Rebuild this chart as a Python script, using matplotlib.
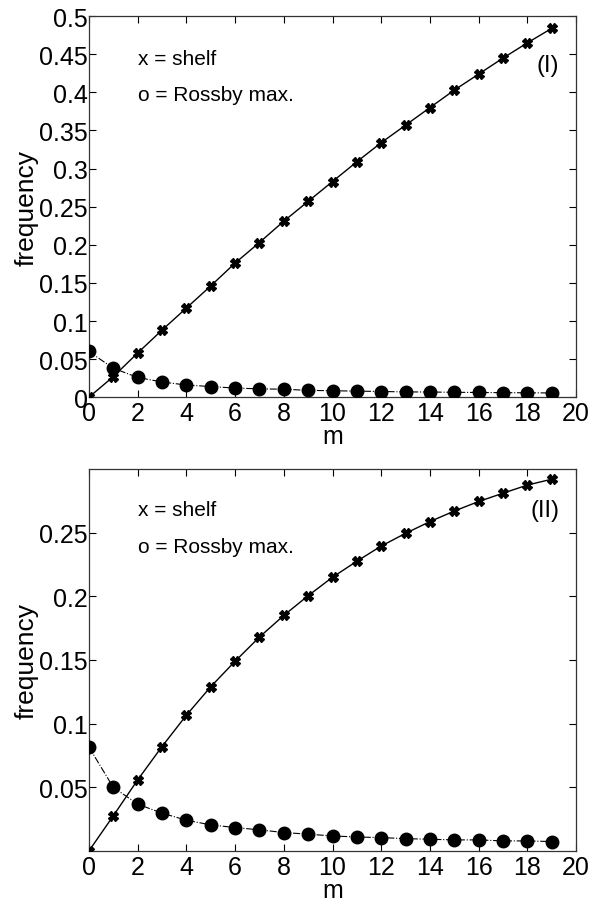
import matplotlib
matplotlib.use("Agg")
import matplotlib.pyplot as plt

plt.rcParams['font.family'] = ['Liberation Sans', 'DejaVu Sans']

m = list(range(20))

# panel (I)
shelf_1 = [0.0, 0.027, 0.058, 0.088, 0.117, 0.146, 0.176, 0.203, 0.231, 0.257,
           0.283, 0.309, 0.334, 0.357, 0.380, 0.403, 0.424, 0.445, 0.465, 0.484]
rossby_1 = [0.060, 0.038, 0.026, 0.020, 0.016, 0.014, 0.012, 0.011, 0.0105, 0.009,
            0.0085, 0.008, 0.0075, 0.007, 0.0068, 0.0065, 0.0062, 0.006, 0.0058, 0.0056]

# panel (II)
shelf_2 = [0.0, 0.0276, 0.0558, 0.082, 0.1066, 0.129, 0.149, 0.168, 0.185, 0.2005,
           0.215, 0.2276, 0.2395, 0.2495, 0.2587, 0.267, 0.2745, 0.281, 0.2874, 0.292]
rossby_2 = [0.0816, 0.050, 0.0368, 0.0297, 0.0242, 0.0205, 0.0184, 0.0166, 0.0145, 0.0132,
            0.0118, 0.011, 0.0105, 0.0097, 0.0092, 0.0087, 0.0087, 0.0079, 0.0079, 0.0074]

yticks_1 = [0, 0.05, 0.1, 0.15, 0.2, 0.25, 0.3, 0.35, 0.4, 0.45, 0.5]
ytick_labels_1 = ['0', '0.05', '0.1', '0.15', '0.2', '0.25', '0.3', '0.35', '0.4', '0.45', '0.5']
yticks_2 = [0.05, 0.1, 0.15, 0.2, 0.25]
ytick_labels_2 = ['0.05', '0.1', '0.15', '0.2', '0.25']
xticks = list(range(0, 21, 2))

fig = plt.figure(figsize=(6.09, 9.03), dpi=100)
ax1 = fig.add_axes([0.146, 0.559, 0.800, 0.422])
ax2 = fig.add_axes([0.146, 0.0565, 0.800, 0.423])


def draw(ax, shelf, rossby, yticks, ylabels, ylim, tag, ty1, ty2, tagy):
    ax.plot(m, rossby, color='black', lw=0.8, ls='-.', marker='o', ms=9,
            mfc='black', mec='black', zorder=3)
    ax.plot(m, shelf, color='black', lw=1.0, ls='-', marker='X', ms=7,
            mfc='black', mec='black', zorder=4)
    ax.set_xlim(0, 20)
    ax.set_ylim(*ylim)
    ax.set_xticks(xticks)
    ax.set_yticks(yticks)
    ax.set_yticklabels(ylabels)
    ax.tick_params(direction='in', top=True, right=True, length=5,
                   labelsize=18, pad=1)
    ax.tick_params(axis='x', pad=3)
    for s in ax.spines.values():
        s.set_linewidth(0.9)
        s.set_color('#333333')
    ax.set_xlabel('m', fontsize=18, labelpad=-1)
    ax.set_ylabel('frequency', fontsize=19, labelpad=0)
    ax.text(2.0, ty1, 'x = shelf', fontsize=15, va='center')
    ax.text(2.0, ty2, 'o = Rossby max.', fontsize=15, va='center')
    ax.text(19.3, tagy, tag, fontsize=17, va='center', ha='right')


draw(ax1, shelf_1, rossby_1, yticks_1, ytick_labels_1, (0, 0.5), '(I)', 0.445, 0.397, 0.436)
draw(ax2, shelf_2, rossby_2, yticks_2, ytick_labels_2, (0, 0.3), '(II)', 0.268, 0.239, 0.268)

fig.savefig('out.png', dpi=100)
